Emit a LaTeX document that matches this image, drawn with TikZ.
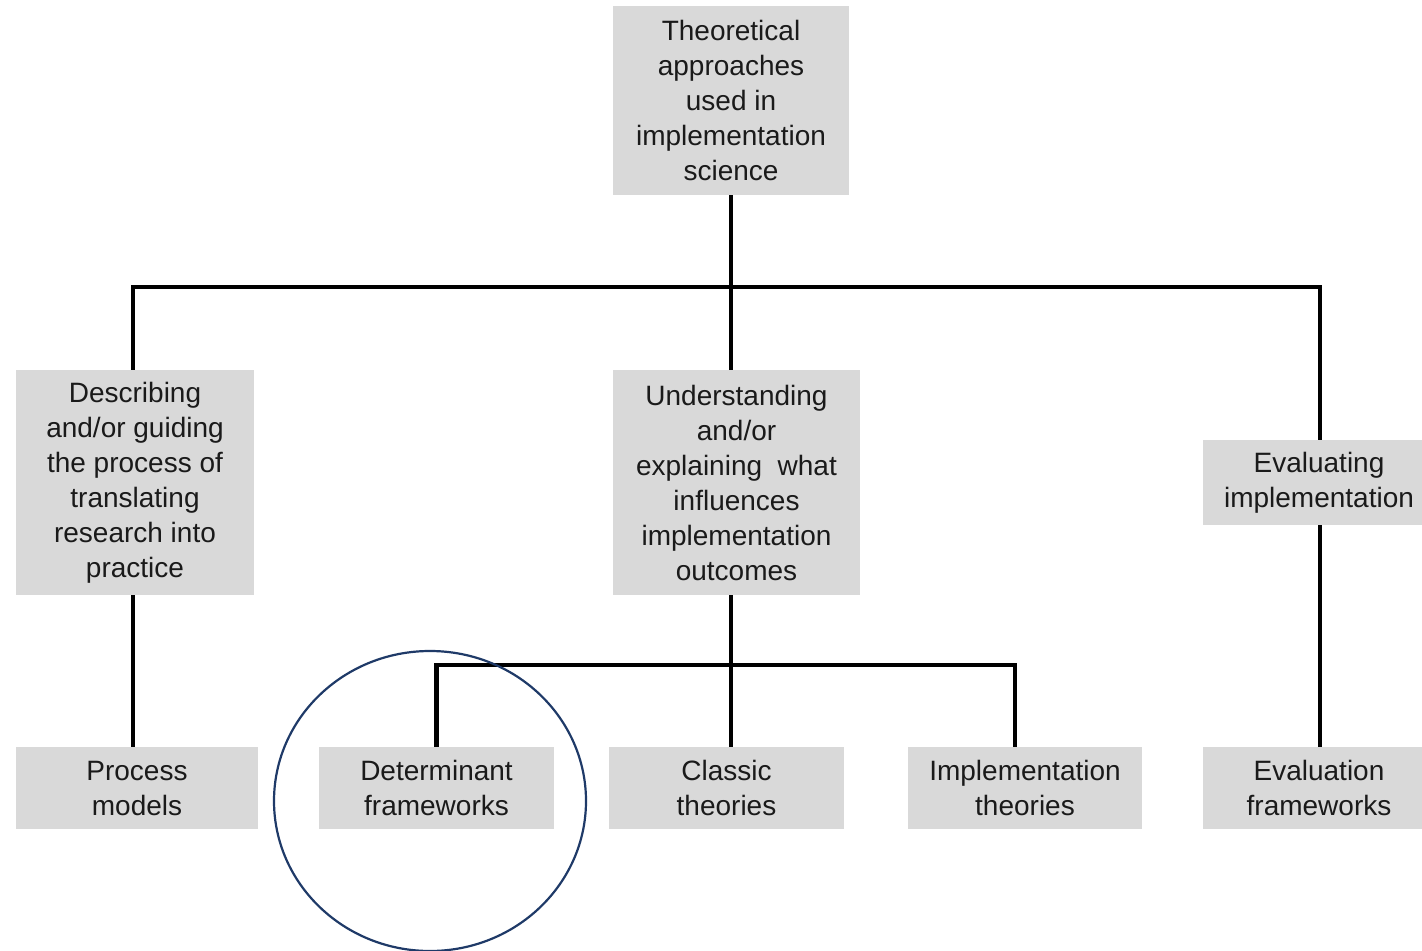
\documentclass[tikz,border=0pt]{standalone}
\usepackage{fontspec}
\setmainfont{Liberation Sans}
\usetikzlibrary{calc}
\definecolor{boxgray}{HTML}{D9D9D9}
\definecolor{inkgray}{HTML}{1A1A1A}
\definecolor{ringblue}{HTML}{1F3A68}
\begin{document}
\begin{tikzpicture}[x=0.5pt,y=-0.5pt,
  box/.style={rectangle, fill=boxgray, draw=none, inner sep=0pt, align=center,
    text=inkgray, font=\fontsize{14}{17.5}\selectfont},
  link/.style={line width=2.3pt, black, line join=miter}]
\useasboundingbox (0,0) rectangle (1422,951);
% level 0
\node[box, minimum width=118pt, minimum height=94.5pt] (top) at (731,100.5)
  {Theoretical\\approaches\\used in\\implementation\\science};
% level 1
\node[box, minimum width=119pt, minimum height=112.5pt] (desc) at (135,482.5)
  {Describing\\and/or guiding\\the process of\\translating\\research into\\practice};
\node[box, minimum width=123.5pt, minimum height=112.5pt] (under) at (736.5,482.5)
  {Understanding\\and/or\\explaining\ \ what\\influences\\implementation\\outcomes};
\node[box, minimum width=116pt, minimum height=42.5pt] (evalimp) at (1319,482.5)
  {Evaluating\\implementation};
% level 2
\node[box, minimum width=121pt, minimum height=41pt] (proc) at (137,788)
  {Process\\models};
\node[box, minimum width=117.5pt, minimum height=41pt] (det) at (436.5,788)
  {Determinant\\frameworks};
\node[box, minimum width=117.5pt, minimum height=41pt] (classic) at (726.5,788)
  {Classic\\theories};
\node[box, minimum width=117pt, minimum height=41pt] (impl) at (1025,788)
  {Implementation\\theories};
\node[box, minimum width=116pt, minimum height=41pt] (evfw) at (1319,788)
  {Evaluation\\frameworks};
% junctions
\coordinate (j1) at (731,287);
\coordinate (j2) at (731,665);
% connectors from the root
\draw[link] (top.south) -- (j1);
\draw[link] (j1) -| ([xshift=-1pt]desc.north);
\draw[link] (j1) -- (j1 |- under.north);
\draw[link] (j1) -| ([xshift=0.5pt]evalimp.north);
% connectors below level 1
\draw[link] ([xshift=-1pt]desc.south) -- ([xshift=-1pt]desc.south |- proc.north);
\draw[link] (under.south -| j2) -- (j2);
\draw[link] (j2) -| (det.north);
\draw[link] (j2) -- (j2 |- classic.north);
\draw[link] (j2) -| ([xshift=-5pt]impl.north);
\draw[link] ([xshift=0.5pt]evalimp.south) -- ([xshift=0.5pt]evalimp.south |- evfw.north);
% highlight ring
\draw[ringblue, line width=1.1pt] (430,801) ellipse [x radius=156, y radius=150];
\end{tikzpicture}
\end{document}
